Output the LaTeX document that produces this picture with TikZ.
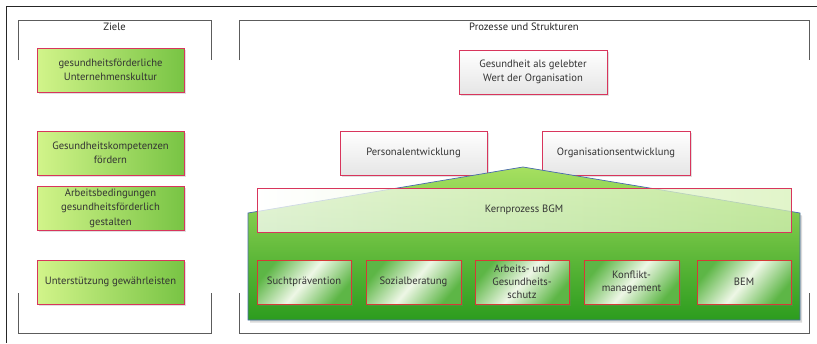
\documentclass[tikz,border=0pt]{standalone}
\usepackage{fontspec}
\setmainfont{PT Sans}
\usetikzlibrary{shadows}
\definecolor{boxred}{HTML}{D8355C}
\definecolor{innerred}{HTML}{D63A36}
\definecolor{txt}{HTML}{333333}
\definecolor{lime}{HTML}{D2F48A}
\definecolor{leaf}{HTML}{78C444}
\definecolor{houseTop}{HTML}{A6E060}
\definecolor{houseBot}{HTML}{2C9C1E}
\definecolor{houseLine}{HTML}{4A6AAE}
\definecolor{frame}{HTML}{333333}
\definecolor{subEdge}{HTML}{5DB646}
\definecolor{subMid}{HTML}{EEF7E6}
\pgfdeclarehorizontalshading{subshade}{100bp}{color(0bp)=(subEdge); color(25bp)=(subEdge); color(50bp)=(subMid); color(75bp)=(subEdge); color(100bp)=(subEdge)}
\tikzset{
  basebox/.style={rectangle, line width=0.9pt, text=txt, align=center,
    font=\fontsize{10.6}{14.5}\selectfont, inner sep=2pt,
    drop shadow={shadow xshift=1.5pt, shadow yshift=-1.8pt, opacity=0.25}},
  greenbox/.style={basebox, draw=boxred, shading=axis, shading angle=160,
    left color=lime, right color=leaf, minimum width=147pt, minimum height=44pt},
  graybox/.style={basebox, draw=boxred, shading=axis, shading angle=170,
    top color=white, bottom color=black!10, minimum width=148pt, minimum height=44pt},
  corebox/.style={rectangle, line width=0.9pt, draw=boxred, text=txt, align=center,
    font=\fontsize{10.6}{14}\selectfont, shading=axis, shading angle=160,
    left color=white, right color=white!55!houseTop, fill opacity=0.75, text opacity=1,
    minimum width=534pt, minimum height=44pt},
  subbox/.style={basebox, draw=innerred, font=\fontsize{10.6}{12.8}\selectfont,
    shading=subshade, shading angle=-40, minimum height=44pt},
  bracket/.style={draw=frame!80, line width=1pt},
  outer/.style={draw=black!85, line width=1pt},
  title/.style={text=black!85, font=\fontsize{10.6}{12}\selectfont, inner sep=0pt}
}
\begin{document}
\begin{tikzpicture}[x=1pt,y=-1pt]
\useasboundingbox (0,0) rectangle (817,343);
% outer frame
\coordinate (oTR) at (817,6);
\coordinate (oTL) at (6,6);
\coordinate (oBL) at (6,343);
\draw[outer] (oTR) -- (oTL) -- (oBL);
% left bracket
\draw[bracket] (18,60) -- (18,20) -- (211,20) -- (211,60);
\draw[bracket] (18,293) -- (18,333) -- (211,333) -- (211,293);
\node[title] (ziele) at (114.5,27) {Ziele};
% right bracket
\draw[bracket] (239,60) -- (239,20) -- (809,20) -- (809,60);
\draw[bracket] (239,293) -- (239,333) -- (809,333) -- (809,293);
\node[title] (pus) at (524,27) {Prozesse und Strukturen};
% left boxes
\node[greenbox] (z1) at (110.5,70) {gesundheitsförderliche\\Unternehmenskultur};
\node[greenbox] (z2) at (110.5,153) {Gesundheitskompetenzen\\fördern};
\node[greenbox] (z3) at (110.5,208) {Arbeitsbedingungen\\gesundheitsförderlich\\gestalten};
\node[greenbox] (z4) at (110.5,282) {Unterstützung gewährleisten};
% top gray boxes
\node[graybox] (wert) at (533,72) {Gesundheit als gelebter\\Wert der Organisation};
\node[graybox, minimum width=147pt] (pe) at (413.5,153) {Personalentwicklung};
\node[graybox] (oe) at (616,153) {Organisationsentwicklung};
% house
\path[drop shadow={shadow xshift=2pt, shadow yshift=-2.5pt, opacity=0.3},
  shading=axis, top color=houseTop, bottom color=houseBot, draw=houseLine, line width=0.7pt]
  (248,213) -- (523,167) -- (800,213) -- (800,320) -- (248,320) -- cycle;
% core process
\node[corebox] (kern) at (524,210) {Kernprozess BGM};
% sub boxes
\node[subbox, minimum width=94pt] (s1) at (304,282) {Suchtprävention};
\node[subbox, minimum width=95pt] (s2) at (413.5,282) {Sozialberatung};
\node[subbox, minimum width=94pt] (s3) at (522,282) {Arbeits- und\\Gesundheits-\\schutz};
\node[subbox, minimum width=95pt] (s4) at (631.5,282) {Konflikt-\\management};
\node[subbox, minimum width=94pt] (s5) at (744,282) {BEM};
\end{tikzpicture}
\end{document}
